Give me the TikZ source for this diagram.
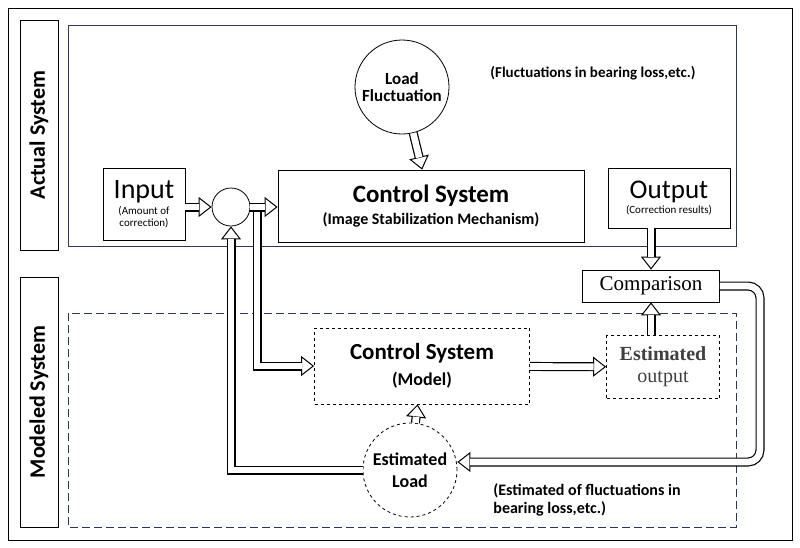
\documentclass[tikz,border=0pt]{standalone}
\usepackage{fontspec}
\setmainfont{Carlito}
\newfontfamily\serif{Liberation Serif}
\usetikzlibrary{arrows.meta}
\definecolor{frameblue}{RGB}{40,55,90}
\begin{document}
\begin{tikzpicture}[x=1pt,y=-1pt]
    % box styles
    \tikzstyle{blk}=[draw, thick, inner sep=2pt, align=center]
    \tikzstyle{dblk}=[draw, thick, dashed, inner sep=2pt, align=center]
    \tikzstyle{side}=[draw, thick, rotate=90, font=\bfseries\fontsize{22}{24}\selectfont, minimum height=38pt]
    % hollow arrows
    \tikzstyle{hol}=[line width=9pt, -{Triangle[fill=white, width=20pt, length=13pt, line width=1pt]},
        postaction={draw=white, line width=6.6pt, -, shorten >=12.5pt}]
    \useasboundingbox (0,0) rectangle (800,547);
    \draw[thick] (8,8) rectangle (792,540);
    % frames of the two systems
    \draw[thick, frameblue] (68,25) rectangle (736,246);
    \draw[thick, frameblue, dashed, dash pattern=on 8pt off 4pt] (68,313) rectangle (736,527);
    \node[side, minimum width=230pt] (act) at (39,135) {Actual System};
    \node[side, minimum width=250pt] (mod) at (39,402) {Modeled System};
    % actual system
    \node[blk, circle, minimum size=94pt, font=\bfseries\fontsize{17}{19}\selectfont] (load) at (402,87) {Load\\[-2pt]Fluctuation};
    \node[font=\bfseries\fontsize{15}{17}\selectfont] (loadtxt) at (593,73) {(Fluctuations in bearing loss,etc.)};
    \node[blk, minimum width=82pt, minimum height=72pt] (in) at (144,204) {\fontsize{28}{30}\selectfont Input\\[2pt]\fontsize{11}{12}\selectfont (Amount of\\\fontsize{11}{12}\selectfont correction)};
    \node[blk, circle, minimum size=38pt] (sum) at (231,207) {};
    \node[blk, minimum width=306pt, minimum height=72pt] (ctrl) at (431,206) {\bfseries\fontsize{25}{27}\selectfont Control System\\[6pt]\bfseries\fontsize{16}{18}\selectfont (Image Stabilization Mechanism)};
    \node[blk, minimum width=122pt, minimum height=60pt] (out) at (669,198) {\fontsize{27}{29}\selectfont Output\\[2pt]\fontsize{11}{12}\selectfont (Correction results)};
    \node[blk, minimum width=137pt, minimum height=32pt, font=\serif\fontsize{21}{23}\selectfont] (cmp) at (651,286) {Comparison};
    % modeled system
    \node[dblk, minimum width=215pt, minimum height=76pt] (model) at (422,366) {\bfseries\fontsize{23}{25}\selectfont Control System\\[8pt]\bfseries\fontsize{18}{20}\selectfont (Model)};
    \node[dblk, minimum width=113pt, minimum height=63pt, font=\serif\fontsize{20}{22}\selectfont, text=black!75] (est) at (663,367) {\bfseries Estimated\\output};
    \node[dblk, circle, minimum size=94pt, font=\bfseries\fontsize{18}{20}\selectfont] (eload) at (410,470) {Estimated\\[2pt]Load};
    \node[font=\bfseries\fontsize{16}{18}\selectfont, align=left] (eloadtxt) at (587,500) {(Estimated of fluctuations in\\bearing loss,etc.)};
    % connectors
    \coordinate (br) at (257,212);
    \draw[hol] (load) -- (ctrl);
    \draw[hol] (in.east |- sum) -- (sum);
    \draw[hol] (sum) -- (ctrl.west |- sum);
    \draw[hol] (br) |- (model.west);
    \draw[hol] (eload) -| (sum);
    \draw[hol] (out.south -| cmp) -- (cmp);
    \draw[hol] (est.north -| cmp) -- (cmp);
    \draw[hol] (model) -- (est);
    \draw[hol, rounded corners=12pt] (cmp.east) -- (760,286) -- (760,462) -- (eload.east |- 0,462);
    \draw[hol] (eload) -- (model);
\end{tikzpicture}
\end{document}
